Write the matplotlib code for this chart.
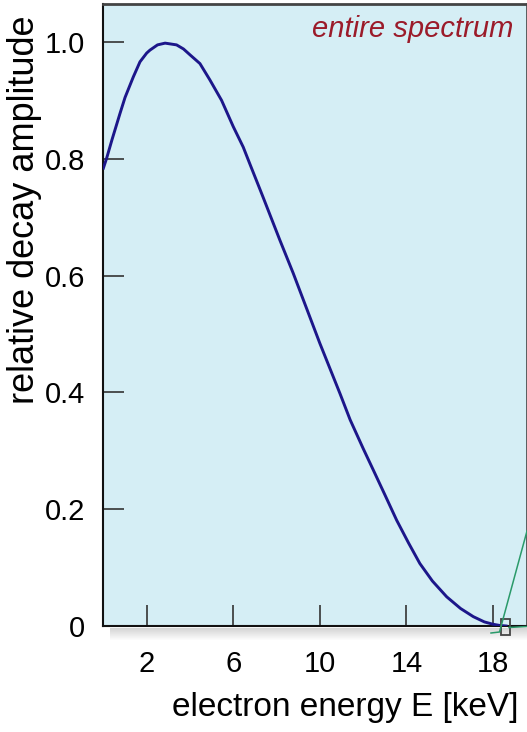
import matplotlib.pyplot as plt
from matplotlib.lines import Line2D
from matplotlib.patches import Rectangle

plt.rcParams['font.family'] = ['Liberation Sans', 'DejaVu Sans']

# electron energy [keV] and relative decay amplitude
energy = [0, 0.15, 0.4, 0.77, 1.0, 1.38, 1.69, 2.0, 2.15, 2.5, 2.85, 3.38, 3.7, 4.0,
          4.46, 4.92, 5.46, 6.0, 6.46, 6.8, 7.23, 7.39, 8.16, 8.77, 10.0, 10.93, 11.4,
          12.0, 12.47, 13.0, 13.55, 14.1, 14.62, 15.2, 15.86, 16.5, 17.09, 17.6, 18.0,
          18.3, 18.6]
amplitude = [0.784, 0.801, 0.833, 0.878, 0.905, 0.94, 0.966, 0.981, 0.986, 0.995, 0.998,
             0.995, 0.988, 0.978, 0.963, 0.935, 0.90, 0.855, 0.82, 0.788, 0.748, 0.733,
             0.66, 0.604, 0.484, 0.398, 0.353, 0.304, 0.267, 0.225, 0.181, 0.142, 0.107,
             0.077, 0.050, 0.030, 0.016, 0.007, 0.003, 0.001, 0.0]

xticks = [2, 6, 10, 14, 18]
yticks = [0, 0.2, 0.4, 0.6, 0.8, 1.0]
ytick_labels = ['0', '0.2', '0.4', '0.6', '0.8', '1.0']

W, H = 527, 732
fig = plt.figure(figsize=(W/100, H/100), dpi=100)
ax = fig.add_axes([103.4/W, 1-626/H, 1-103.4/W, 622/H])
ax.set_facecolor('#d5eef5')

ax.plot(energy, amplitude, color='#1c168a', lw=2.1, zorder=3)

ax.set_xlim(0, 19.57)
ax.set_ylim(0, 1.065)
ax.set_xticks(xticks)
ax.set_yticks(yticks)
ax.set_yticklabels(ytick_labels)
ax.tick_params(direction='in', length=15, width=1.2, color='#333333', labelsize=21)
ax.tick_params(axis='y', pad=13)
ax.tick_params(axis='x', pad=17)

for s in ['left', 'bottom']:
    ax.spines[s].set_linewidth(1.5)
    ax.spines[s].set_color('#111111')
ax.spines['top'].set_linewidth(2)
ax.spines['top'].set_color('#444444')
ax.spines['right'].set_linewidth(1.2)
ax.spines['right'].set_color('#444444')

ax.set_xlabel('electron energy E [keV]', fontsize=24)
ax.xaxis.set_label_coords(0.570, -0.131)
ax.xaxis.label.set_va('center')
ax.set_ylabel('relative decay amplitude', fontsize=26)
ax.yaxis.set_label_coords(-0.187, 0.669)
ax.yaxis.label.set_va('center')

ax.text(0.969, 0.947, 'entire spectrum', transform=ax.transAxes, ha='right', va='baseline',
        fontsize=21, style='italic', color='#9b1b2a')

# zoom window marker at the spectrum endpoint
ax.add_patch(Rectangle((18.35, -0.016), 0.45, 0.028, fill=False, ec='#444444', lw=1.3,
                       clip_on=False, zorder=5))

# connection lines towards the (cropped) zoom panel
def px(x, y):
    return x / W, 1 - y / H

for pts in [[(491, 633), (499.5, 632), (527, 531)], [(509, 627.5), (527, 626.5)]]:
    xs, ys = zip(*[px(*p) for p in pts])
    fig.add_artist(Line2D(xs, ys, color='#2a9a6a', lw=1.1, transform=fig.transFigure))

# soft shadow under the bottom axis
for i in range(12):
    fig.add_artist(Rectangle(px(110, 628 + i + 1), (W - 110) / W, 1 / H,
                             transform=fig.transFigure, color='#888888',
                             alpha=0.35 * (1 - i / 12), lw=0, zorder=0))

fig.savefig('out.png', dpi=100)
